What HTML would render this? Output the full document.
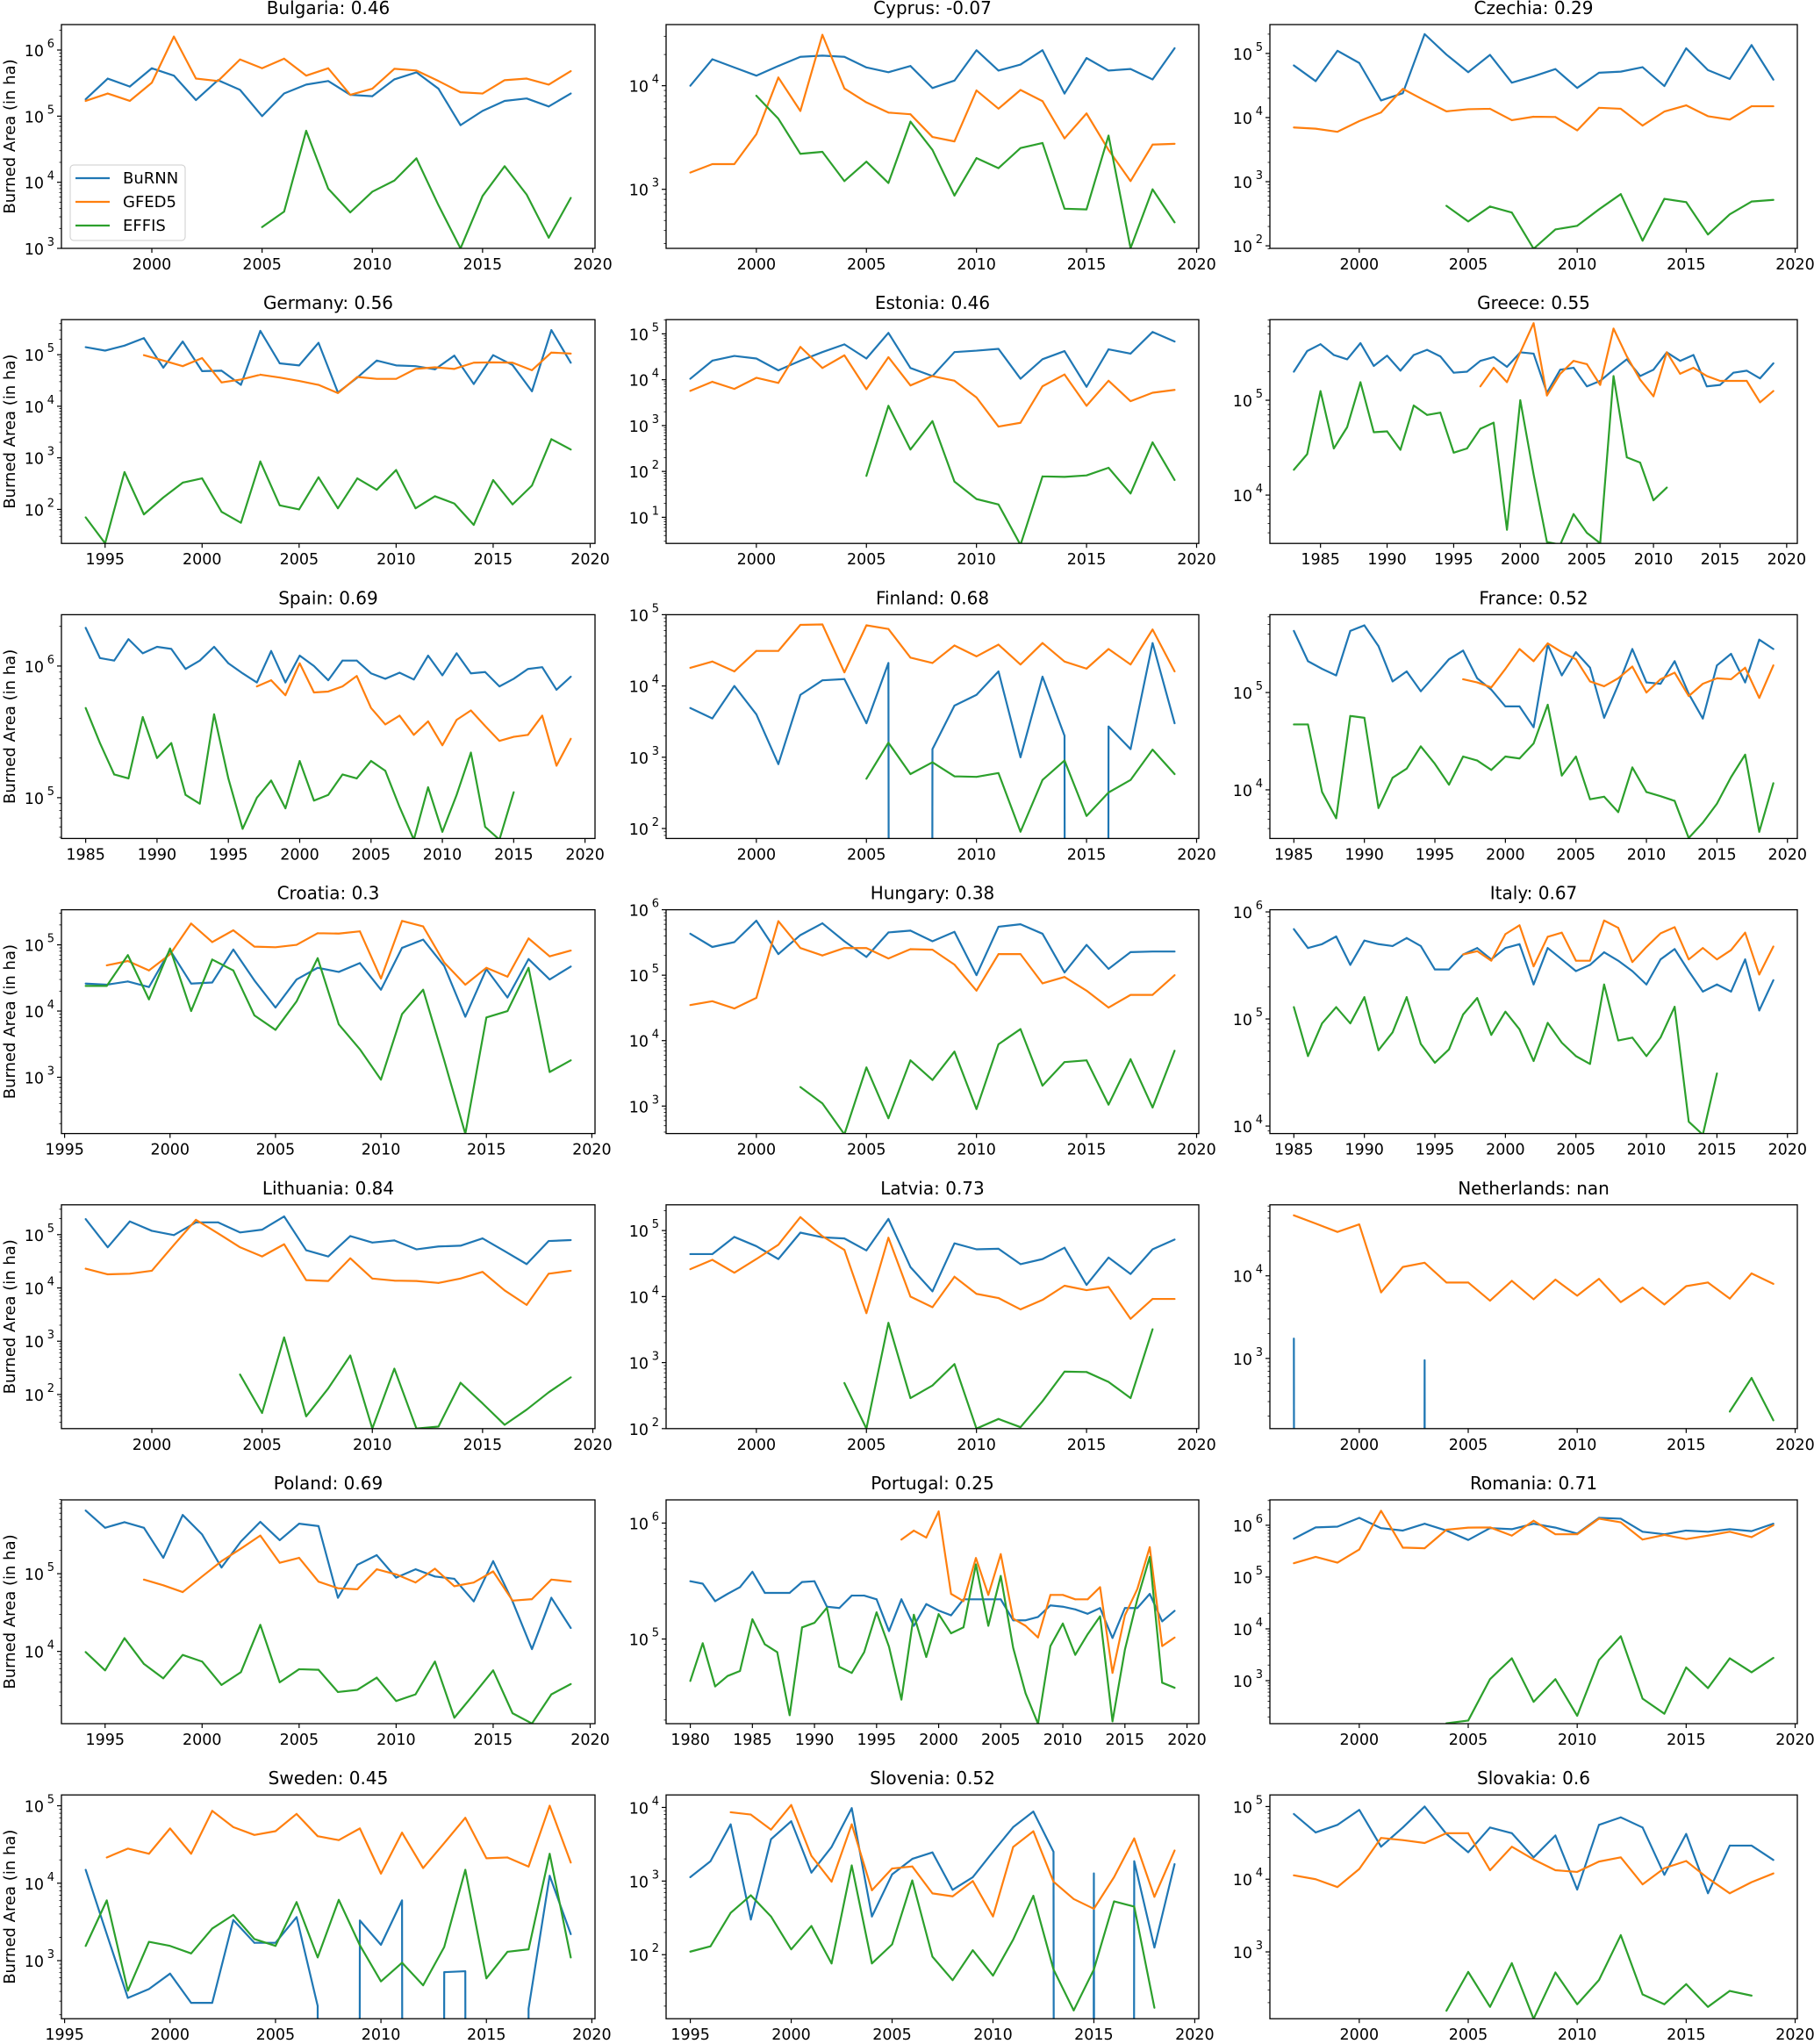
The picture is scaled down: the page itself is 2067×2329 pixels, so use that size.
<!DOCTYPE html>
<html><head><meta charset="utf-8"><title>Burned Area by Country</title>
<style>
html,body{margin:0;padding:0;background:#fff;width:2067px;height:2329px;overflow:hidden;}
svg{display:block;overflow:hidden;font-family:"DejaVu Sans","Liberation Sans",sans-serif;}
</style></head>
<body>
<svg id="fig" xmlns="http://www.w3.org/2000/svg" width="2067" height="2329" viewBox="0 0 2067 2329"></svg>
<script>
const countries = ["Bulgaria","Cyprus","Czechia","Germany","Estonia","Greece","Spain","Finland","France","Croatia","Hungary","Italy","Lithuania","Latvia","Netherlands","Poland","Portugal","Romania","Sweden","Slovenia","Slovakia"];
const scores = ["0.46","-0.07","0.29","0.56","0.46","0.55","0.69","0.68","0.52","0.3","0.38","0.67","0.84","0.73","nan","0.69","0.25","0.71","0.45","0.52","0.6"];
const burnnStart = [1997,1997,1997,1994,1997,1983,1985,1997,1985,1996,1997,1985,1997,1997,1997,1994,1980,1997,1996,1995,1997];
const gfedStart  = [1997,1997,1997,1997,1997,1997,1997,1997,1997,1997,1997,1997,1997,1997,1997,1997,1997,1997,1997,1997,1997];
const effisStart = [2005,2000,2004,1994,2005,1983,1985,2005,1985,1996,2002,1985,2004,2004,2017,1994,1980,2004,1996,1995,2004];
const yLimLo = [3.0,2.43,1.96,1.34,0.43,3.49,4.69,1.86,3.50,2.15,2.58,3.93,1.36,2.0,2.15,3.07,4.27,2.17,2.25,1.13,2.08];
const yLimHi = [6.385,4.59,5.45,5.68,5.31,5.85,6.39,5.0,5.80,5.53,6.0,6.02,5.56,5.39,4.86,5.95,6.2,6.49,5.14,4.17,5.16];

const burnn = [
 [1.8e5,3.7e5,2.8e5,5.3e5,4.1e5,1.75e5,3.5e5,2.5e5,1.0e5,2.2e5,3.0e5,3.4e5,2.1e5,2.0e5,3.6e5,4.6e5,2.6e5,7.3e4,1.2e5,1.7e5,1.85e5,1.4e5,2.2e5],
 [1.0e4,1.8e4,1.5e4,1.25e4,1.55e4,1.9e4,1.95e4,1.9e4,1.5e4,1.35e4,1.55e4,9.5e3,1.12e4,2.2e4,1.4e4,1.6e4,2.2e4,8.4e3,1.85e4,1.4e4,1.45e4,1.15e4,2.3e4],
 [6.5e4,3.7e4,1.1e5,7.1e4,1.85e4,2.4e4,2.0e5,9.6e4,5.1e4,9.5e4,3.5e4,4.4e4,5.7e4,2.9e4,5.0e4,5.2e4,6.1e4,3.1e4,1.2e5,5.5e4,4.0e4,1.35e5,3.9e4],
 [1.4e5,1.2e5,1.5e5,2.1e5,5.6e4,1.8e5,4.8e4,4.9e4,2.6e4,2.9e5,6.8e4,6.2e4,1.7e5,1.85e4,3.6e4,7.7e4,6.2e4,6.0e4,5.2e4,9.6e4,2.7e4,9.8e4,6.3e4,1.95e4,3.0e5,7.0e4],
 [1.05e4,2.6e4,3.3e4,2.9e4,1.6e4,2.6e4,4.0e4,5.9e4,2.9e4,1.05e5,1.8e4,1.2e4,4.0e4,4.3e4,4.7e4,1.05e4,2.8e4,4.2e4,7.0e3,4.6e4,3.7e4,1.1e5,6.8e4],
 [2.0e5,3.3e5,3.9e5,3.0e5,2.7e5,4.0e5,2.3e5,2.95e5,2.05e5,3.0e5,3.4e5,2.9e5,1.95e5,2.0e5,2.6e5,2.85e5,2.25e5,3.2e5,3.1e5,1.2e5,2.1e5,2.2e5,1.4e5,1.6e5,2.1e5,2.7e5,1.8e5,2.1e5,3.2e5,2.6e5,3.0e5,1.4e5,1.45e5,1.95e5,2.05e5,1.7e5,2.45e5],
 [1.95e6,1.15e6,1.1e6,1.6e6,1.25e6,1.4e6,1.35e6,9.5e5,1.1e6,1.4e6,1.05e6,8.8e5,7.5e5,1.3e6,7.5e5,1.2e6,1.0e6,7.8e5,1.1e6,1.1e6,8.8e5,8.0e5,8.9e5,7.9e5,1.2e6,8.5e5,1.25e6,8.8e5,9.0e5,7.0e5,8.0e5,9.5e5,9.8e5,6.6e5,8.3e5],
 [4.9e3,3.5e3,1.0e4,4.0e3,800,7.5e3,1.2e4,1.25e4,3.0e3,2.1e4,0,1.3e3,5.3e3,7.5e3,1.6e4,1.0e3,1.35e4,2.0e3,0,2.7e3,1.3e3,4.0e4,3.0e3],
 [4.3e5,2.1e5,1.75e5,1.5e5,4.3e5,4.9e5,3.0e5,1.3e5,1.65e5,1.03e5,1.5e5,2.2e5,2.7e5,1.4e5,1.07e5,7.2e4,7.2e4,4.4e4,3.1e5,1.5e5,2.6e5,1.8e5,5.5e4,1.2e5,2.8e5,1.27e5,1.23e5,2.1e5,9.7e4,5.4e4,1.9e5,2.5e5,1.27e5,3.5e5,2.8e5],
 [2.6e4,2.5e4,2.8e4,2.3e4,8.3e4,2.6e4,2.7e4,8.5e4,2.9e4,1.13e4,3.0e4,4.5e4,3.9e4,5.3e4,2.1e4,9.0e4,1.2e5,4.8e4,8.2e3,4.3e4,1.6e4,6.1e4,3.0e4,4.7e4],
 [4.3e5,2.7e5,3.2e5,6.8e5,2.1e5,4.1e5,6.2e5,3.3e5,1.9e5,4.5e5,4.8e5,3.3e5,4.6e5,1.0e5,5.5e5,6.0e5,4.3e5,1.1e5,2.9e5,1.25e5,2.25e5,2.3e5,2.3e5],
 [6.9e5,4.6e5,5.0e5,5.9e5,3.2e5,5.4e5,5.0e5,4.8e5,5.7e5,4.8e5,2.9e5,2.9e5,4.0e5,4.6e5,3.6e5,4.6e5,5.0e5,2.1e5,4.6e5,3.6e5,2.8e5,3.2e5,4.2e5,3.5e5,2.8e5,2.1e5,3.6e5,4.5e5,2.8e5,1.8e5,2.1e5,1.8e5,3.6e5,1.2e5,2.3e5],
 [1.96e5,5.8e4,1.77e5,1.18e5,9.8e4,1.7e5,1.7e5,1.1e5,1.24e5,2.2e5,5.1e4,3.9e4,9.4e4,7.1e4,7.8e4,5.3e4,6.0e4,6.2e4,8.5e4,4.9e4,2.8e4,7.6e4,7.9e4],
 [4.4e4,4.4e4,8.0e4,5.8e4,3.7e4,9.3e4,7.9e4,7.6e4,5.0e4,1.5e5,2.8e4,1.2e4,6.4e4,5.2e4,5.3e4,3.1e4,3.7e4,5.5e4,1.5e4,3.9e4,2.2e4,5.2e4,7.3e4],
 [1.74e3,0,0,0,0,0,950,0,0,0,0,0,0,0,0,0,0,0,0,0,0,0,0],
 [6.5e5,3.9e5,4.6e5,3.9e5,1.6e5,5.7e5,3.2e5,1.2e5,2.6e5,4.65e5,2.7e5,4.4e5,4.1e5,4.9e4,1.3e5,1.73e5,8.9e4,1.14e5,9.2e4,8.6e4,4.4e4,1.45e5,4.4e4,1.07e4,4.9e4,2.0e4],
 [3.15e5,3.0e5,2.12e5,2.45e5,2.8e5,3.8e5,2.5e5,2.5e5,2.5e5,3.1e5,3.15e5,1.9e5,1.85e5,2.37e5,2.37e5,2.2e5,1.17e5,2.2e5,1.3e5,2.0e5,1.76e5,1.6e5,2.2e5,2.2e5,2.2e5,2.2e5,1.45e5,1.45e5,1.55e5,1.95e5,1.9e5,1.8e5,1.65e5,1.85e5,1.02e5,1.85e5,1.85e5,2.45e5,1.42e5,1.75e5],
 [5.5e5,9.1e5,9.4e5,1.39e6,8.8e5,7.9e5,1.07e6,7.9e5,5.2e5,8.8e5,8.4e5,1.07e6,9.0e5,6.9e5,1.39e6,1.34e6,7.5e5,6.7e5,7.9e5,7.5e5,8.4e5,7.7e5,1.07e6],
 [1.49e4,2.2e3,3.3e2,4.3e2,6.8e2,2.85e2,2.85e2,3.35e3,1.7e3,1.7e3,3.65e3,2.6e2,0,3.3e3,1.6e3,6.0e3,0,7.1e2,7.3e2,0,0,2.4e2,1.25e4,2.2e3],
 [1.13e3,1.86e3,5.9e3,3.0e2,3.7e3,6.5e3,1.3e3,2.9e3,9.8e3,3.3e2,1.23e3,2.0e3,2.45e3,7.6e2,1.13e3,2.5e3,5.4e3,8.8e3,2.5e3,0,1.27e3,0,1.86e3,1.25e2,1.7e3],
 [7.9e4,4.4e4,5.6e4,9.0e4,2.8e4,5.15e4,1.0e5,4.2e4,2.35e4,5.15e4,4.3e4,2.0e4,4.0e4,7.2e3,5.6e4,7.1e4,5.15e4,1.15e4,4.2e4,6.4e3,2.9e4,2.9e4,1.84e4]
];
const gfed = [
 [1.7e5,2.2e5,1.7e5,3.2e5,1.6e6,3.7e5,3.4e5,7.2e5,5.3e5,7.4e5,4.1e5,5.3e5,2.1e5,2.6e5,5.2e5,4.9e5,3.4e5,2.3e5,2.2e5,3.5e5,3.7e5,3.0e5,4.8e5],
 [1.45e3,1.75e3,1.75e3,3.4e3,1.2e4,5.7e3,3.1e4,9.4e3,6.9e3,5.5e3,5.3e3,3.2e3,2.9e3,9.0e3,6.0e3,9.1e3,7.1e3,3.1e3,5.4e3,2.4e3,1.2e3,2.7e3,2.75e3],
 [7.0e3,6.7e3,6.0e3,8.8e3,1.2e4,2.8e4,1.85e4,1.25e4,1.35e4,1.37e4,9.1e3,1.03e4,1.02e4,6.3e3,1.42e4,1.37e4,7.5e3,1.24e4,1.55e4,1.05e4,9.3e3,1.5e4,1.5e4],
 [9.8e4,7.7e4,6.0e4,8.6e4,2.9e4,3.3e4,4.1e4,3.6e4,3.1e4,2.6e4,1.8e4,3.7e4,3.4e4,3.4e4,5.3e4,5.7e4,5.3e4,7.0e4,7.1e4,7.0e4,5.0e4,1.1e5,1.05e5],
 [5.7e3,9.0e3,6.3e3,1.1e4,8.5e3,5.2e4,1.8e4,3.4e4,6.2e3,3.1e4,7.5e3,1.2e4,9.5e3,4.1e3,950,1.15e3,7.2e3,1.3e4,2.7e3,9.5e3,3.4e3,5.2e3,6.0e3],
 [1.4e5,2.2e5,1.55e5,3.2e5,6.5e5,1.12e5,1.9e5,2.6e5,2.4e5,1.45e5,5.7e5,2.9e5,1.65e5,1.1e5,3.2e5,1.9e5,2.2e5,1.8e5,1.6e5,1.6e5,1.6e5,9.5e4,1.25e5],
 [7.0e5,7.8e5,6.0e5,1.05e6,6.3e5,6.4e5,7.0e5,8.4e5,4.8e5,3.6e5,4.2e5,3.0e5,3.8e5,2.5e5,3.9e5,4.6e5,3.5e5,2.7e5,2.9e5,3.0e5,4.2e5,1.75e5,2.8e5],
 [1.8e4,2.2e4,1.6e4,3.1e4,3.1e4,7.2e4,7.3e4,1.55e4,7.1e4,6.3e4,2.5e4,2.1e4,3.7e4,2.6e4,3.8e4,2.0e4,4.0e4,2.2e4,1.75e4,3.3e4,2.0e4,6.2e4,1.6e4],
 [1.37e5,1.27e5,1.13e5,1.75e5,2.8e5,2.1e5,3.2e5,2.6e5,2.2e5,1.3e5,1.16e5,1.4e5,1.85e5,1.0e5,1.37e5,1.6e5,9.2e4,1.23e5,1.4e5,1.37e5,1.8e5,8.8e4,1.9e5],
 [4.9e4,5.7e4,4.1e4,7.2e4,2.1e5,1.1e5,1.66e5,9.4e4,9.2e4,1.0e5,1.5e5,1.48e5,1.6e5,3.1e4,2.3e5,1.9e5,5.4e4,2.5e4,4.5e4,3.3e4,1.25e5,6.7e4,8.2e4],
 [3.5e4,4.0e4,3.1e4,4.5e4,6.7e5,2.6e5,2.0e5,2.6e5,2.6e5,1.8e5,2.5e5,2.45e5,1.45e5,5.8e4,2.1e5,2.1e5,7.5e4,9.4e4,5.8e4,3.2e4,5.0e4,5.0e4,1.0e5],
 [4.0e5,4.3e5,3.5e5,6.2e5,7.5e5,3.1e5,5.85e5,6.4e5,3.5e5,3.5e5,8.3e5,7.1e5,3.4e5,4.7e5,6.3e5,7.2e5,3.6e5,4.6e5,3.6e5,4.4e5,6.4e5,2.6e5,4.75e5],
 [2.3e4,1.8e4,1.85e4,2.1e4,6.4e4,1.9e5,1.06e5,5.8e4,3.9e4,6.6e4,1.4e4,1.35e4,3.6e4,1.5e4,1.37e4,1.35e4,1.24e4,1.5e4,2.0e4,9.0e3,4.8e3,1.85e4,2.1e4],
 [2.6e4,3.6e4,2.3e4,3.7e4,6.1e4,1.6e5,8.2e4,5.1e4,5.6e3,7.8e4,1.0e4,6.9e3,2.0e4,1.1e4,9.5e3,6.4e3,8.9e3,1.46e4,1.25e4,1.4e4,4.6e3,9.2e3,9.2e3],
 [5.4e4,4.3e4,3.4e4,4.2e4,6.3e3,1.28e4,1.44e4,8.3e3,8.3e3,5.0e3,8.7e3,5.2e3,9.0e3,5.75e3,9.2e3,4.8e3,7.2e3,4.5e3,7.5e3,8.3e3,5.3e3,1.07e4,8.0e3],
 [8.4e4,7.1e4,5.8e4,9.2e4,1.45e5,2.1e5,3.1e5,1.38e5,1.6e5,7.9e4,6.5e4,6.3e4,1.14e5,9.8e4,7.7e4,1.16e5,6.9e4,7.7e4,1.07e5,4.5e4,4.7e4,8.4e4,7.9e4],
 [7.2e5,8.6e5,7.5e5,1.26e6,2.45e5,2.12e5,5.0e5,2.4e5,5.4e5,1.5e5,1.3e5,1.03e5,2.4e5,2.4e5,2.2e5,2.2e5,2.8e5,5.1e4,1.6e5,2.7e5,6.2e5,8.7e4,1.03e5],
 [1.85e5,2.45e5,1.9e5,3.4e5,1.9e6,3.7e5,3.6e5,8.2e5,9.0e5,9.1e5,6.3e5,1.22e6,6.7e5,6.7e5,1.34e6,1.14e6,5.3e5,6.5e5,5.4e5,6.3e5,7.5e5,5.9e5,1.0e6],
 [2.15e4,2.8e4,2.4e4,5.1e4,2.4e4,8.6e4,5.3e4,4.2e4,4.7e4,7.85e4,4.05e4,3.6e4,5.1e4,1.33e4,4.5e4,1.57e4,3.3e4,7.0e4,2.1e4,2.15e4,1.64e4,1.0e5,1.85e4],
 [8.6e3,8.0e3,5.0e3,1.08e4,2.2e3,9.8e2,5.9e3,7.5e2,1.48e3,1.58e3,6.8e2,6.2e2,1.0e3,3.3e2,2.9e3,4.75e3,9.8e2,5.7e2,4.2e2,1.13e3,3.8e3,6.1e2,2.6e3],
 [1.13e4,1.0e4,7.8e3,1.38e4,3.7e4,3.45e4,3.15e4,4.3e4,4.3e4,1.33e4,2.8e4,1.87e4,1.33e4,1.26e4,1.75e4,2.0e4,8.5e3,1.42e4,1.78e4,1.03e4,6.4e3,9.1e3,1.2e4]
];
const effis = [
 [2.1e3,3.6e3,6.0e4,8.0e3,3.5e3,7.2e3,1.06e4,2.3e4,4.5e3,1.0e3,6.2e3,1.75e4,6.5e3,1.45e3,5.8e3],
 [8.0e3,4.8e3,2.2e3,2.3e3,1.2e3,1.85e3,1.15e3,4.5e3,2.4e3,870,2.0e3,1.6e3,2.5e3,2.8e3,650,640,3.3e3,270,1.0e3,480],
 [420,240,410,330,90,180,205,370,640,120,540,480,150,310,490,520],
 [70,22,530,80,170,330,400,90,55,850,120,100,420,105,400,240,580,105,180,130,50,370,125,290,2300,1450],
 [80,2700,300,1250,60,25,19,2.5,78,76,82,120,33,430,65],
 [1.85e4,2.7e4,1.25e5,3.1e4,5.2e4,1.55e5,4.6e4,4.7e4,3.0e4,8.8e4,7.0e4,7.4e4,2.8e4,3.1e4,5.0e4,5.8e4,4.3e3,1.0e5,1.65e4,3.2e3,3.0e3,6.3e3,4.0e3,3.1e3,1.8e5,2.5e4,2.2e4,8.8e3,1.2e4],
 [4.8e5,2.6e5,1.5e5,1.4e5,4.1e5,2.0e5,2.6e5,1.05e5,9.0e4,4.3e5,1.4e5,5.8e4,1.0e5,1.35e5,8.3e4,1.9e5,9.5e4,1.05e5,1.5e5,1.4e5,1.9e5,1.6e5,8.5e4,4.8e4,1.2e5,5.5e4,1.05e5,2.2e5,6.0e4,4.8e4,1.1e5],
 [500,1600,580,850,540,530,600,90,480,900,150,320,480,1280,580],
 [4.7e4,4.7e4,9.5e3,5.1e3,5.75e4,5.5e4,6.5e3,1.33e4,1.65e4,2.8e4,1.85e4,1.13e4,2.2e4,2.0e4,1.6e4,2.2e4,2.1e4,3.0e4,7.5e4,1.4e4,2.2e4,8.0e3,8.5e3,5.9e3,1.7e4,9.5e3,8.6e3,7.7e3,3.2e3,4.6e3,7.2e3,1.35e4,2.3e4,3.7e3,1.17e4],
 [2.4e4,2.4e4,7.0e4,1.5e4,8.8e4,1.0e4,6.0e4,4.1e4,8.6e3,5.2e3,1.4e4,6.3e4,6.3e3,2.65e3,9.2e2,9.0e3,2.1e4,1.8e3,1.4e2,8.0e3,1.0e4,4.5e4,1.2e3,1.8e3],
 [1.95e3,1.1e3,3.7e2,3.9e3,6.5e2,5.0e3,2.5e3,6.8e3,9.0e2,8.8e3,1.5e4,2.05e3,4.7e3,5.0e3,1.05e3,5.2e3,9.5e2,7.0e3],
 [1.29e5,4.5e4,9.1e4,1.29e5,9.1e4,1.6e5,5.1e4,7.5e4,1.6e5,5.85e4,3.9e4,5.2e4,1.1e5,1.57e5,7.1e4,1.17e5,8.0e4,4.05e4,9.2e4,6.0e4,4.5e4,3.8e4,2.1e5,6.3e4,6.7e4,4.5e4,6.7e4,1.3e5,1.1e4,8.3e3,3.1e4],
 [2.37e2,45,1.18e3,39,1.3e2,5.4e2,23,3.05e2,23,25,1.66e2,68,27,52,1.1e2,2.1e2],
 [4.9e2,1.0e2,4.0e3,2.9e2,4.5e2,9.5e2,1.0e2,1.4e2,1.05e2,2.6e2,7.3e2,7.2e2,5.1e2,2.9e2,3.2e3],
 [2.27e2,5.8e2,1.78e2],
 [9.8e3,5.7e3,1.48e4,6.9e3,4.5e3,9.0e3,7.4e3,3.7e3,5.4e3,2.2e4,4.0e3,5.9e3,5.8e3,3.0e3,3.2e3,4.6e3,2.3e3,2.8e3,7.4e3,1.4e3,2.8e3,5.7e3,1.6e3,1.18e3,2.8e3,3.8e3],
 [4.35e4,9.2e4,3.9e4,4.8e4,5.3e4,1.48e5,9.0e4,7.7e4,2.2e4,1.26e5,1.38e5,1.86e5,5.75e4,5.1e4,7.7e4,1.7e5,8.6e4,3.0e4,1.62e5,7.0e4,1.64e5,1.12e5,1.26e5,4.4e5,1.3e5,3.5e5,8.4e4,3.4e4,1.86e4,8.7e4,1.36e5,7.3e4,1.1e5,1.57e5,1.95e4,8.1e4,2.2e5,5.1e5,4.2e4,3.8e4],
 [1.5e2,1.7e2,1.07e3,2.7e3,3.9e2,1.07e3,2.1e2,2.5e3,7.2e3,4.5e2,2.3e2,1.8e3,7.2e2,2.7e3,1.45e3,2.75e3],
 [1.55e3,6.0e3,4.1e2,1.75e3,1.55e3,1.24e3,2.6e3,3.9e3,1.9e3,1.55e3,5.7e3,1.1e3,6.1e3,1.58e3,5.4e2,9.4e2,4.8e2,1.5e3,1.49e4,5.9e2,1.3e3,1.4e3,2.4e4,1.1e3],
 [1.1e2,1.3e2,3.7e2,6.4e2,3.3e2,1.18e2,2.45e2,76,1.63e3,76,1.38e2,1.02e3,94,45,1.15e2,52,1.6e2,6.3e2,63,17.5,63,5.3e2,4.5e2,19],
 [1.55e2,5.3e2,1.75e2,7.0e2,1.2e2,5.2e2,1.9e2,4.1e2,1.7e3,2.6e2,1.9e2,3.6e2,1.75e2,2.9e2,2.5e2]
];
const seriesNames = ["BuRNN","GFED5","EFFIS"];
const seriesColors = ["#1f77b4","#ff7f0e","#2ca02c"];

const NS = "http://www.w3.org/2000/svg";
const svg = document.getElementById("fig");
const colL = [70, 759, 1447], colR = [678, 1366, 2048];
const top0 = 28, rowStep = 336.2, ph = 255;
function mk(tag, attrs, parent) {
  const e = document.createElementNS(NS, tag);
  for (const k in attrs) e.setAttribute(k, attrs[k]);
  (parent || svg).appendChild(e);
  return e;
}
const defs = mk("defs", {});

countries.forEach((name, i) => {
  const r = Math.floor(i / 3), c = i % 3;
  const L = colL[c], R = colR[c], T = top0 + rowStep * r, B = T + ph;
  const starts = [burnnStart[i], gfedStart[i], effisStart[i]];
  const arrs = [burnn[i], gfed[i], effis[i]];
  let y0 = Infinity, y1 = -Infinity;
  arrs.forEach((a, s) => { y0 = Math.min(y0, starts[s]); y1 = Math.max(y1, starts[s] + a.length - 1); });
  const xr = y1 - y0, xmin = y0 - 0.05 * xr, xmax = y1 + 0.05 * xr;
  const xs = yr => L + (yr - xmin) / (xmax - xmin) * (R - L);
  const lo = yLimLo[i], hi = yLimHi[i];
  const FAR = B + 20000;
  const ys = v => v <= 0 ? FAR : B - (Math.log10(v) - lo) / (hi - lo) * (B - T);

  const g = mk("g", {});
  
  

  const cp = mk("clipPath", { id: "cp" + i }, defs);
  mk("rect", { x: L, y: T, width: R - L, height: B - T }, cp);

  const title = mk("text", { x: (L + R) / 2, y: T - 12, "text-anchor": "middle", "font-size": 20, fill: "#000" }, g);
  title.textContent = name + ": " + scores[i];
  
  

  const xt = mk("g", {}, g);
  
  
  for (let yr = Math.ceil(xmin / 5) * 5; yr <= xmax; yr += 5) {
    const x = xs(yr);
    mk("line", { x1: x, y1: B, x2: x, y2: B + 5, stroke: "#000", "stroke-width": 1.2 }, xt);
    const t = mk("text", { x: x, y: B + 24, "text-anchor": "middle", "font-size": 17.5, fill: "#000" }, xt);
    t.textContent = yr;
  }
  const yt = mk("g", {}, g);
  
  
  for (let d = Math.floor(lo) - 1; d <= Math.ceil(hi); d++) {
    for (let k = 1; k <= 9; k++) {
      const lv = d + Math.log10(k);
      if (lv < lo - 0.01 || lv > hi + 0.01) continue;
      const y = B - (lv - lo) / (hi - lo) * (B - T);
      if (k === 1) {
        mk("line", { x1: L - 5, y1: y, x2: L, y2: y, stroke: "#000", "stroke-width": 1.2 }, yt);
        const t = mk("text", { x: L - 20, y: y + 7, "text-anchor": "end", "font-size": 17.5, fill: "#000" }, yt);
        t.textContent = "10";
        const sup = mk("text", { x: L - 8, y: y - 3, "text-anchor": "end", "font-size": 13, fill: "#000" }, yt);
        sup.textContent = String(d);
      } else {
        mk("line", { x1: L - 2.5, y1: y, x2: L, y2: y, stroke: "#000", "stroke-width": 0.8 }, yt);
      }
    }
  }
  const CUT = B + 3;
  arrs.forEach((a, s) => {
    let d = "";
    for (let j = 0; j + 1 < a.length; j++) {
      const v1 = a[j], v2 = a[j + 1];
      if (v1 === null || v2 === null || v1 === undefined || v2 === undefined) continue;
      if (v1 <= 0 && v2 <= 0) continue;
      let xa = xs(starts[s] + j), ya = ys(v1), xb = xs(starts[s] + j + 1), yb = ys(v2);
      if (v1 <= 0) { const t = (CUT - yb) / (ya - yb); xa = xb + t * (xa - xb); ya = CUT; }
      if (v2 <= 0) { const t = (CUT - ya) / (yb - ya); xb = xa + t * (xb - xa); yb = CUT; }
      d += "M" + xa.toFixed(2) + " " + ya.toFixed(2) + " L" + xb.toFixed(2) + " " + yb.toFixed(2) + " ";
    }
    const p = mk("path", { d: d, fill: "none", stroke: seriesColors[s], "stroke-width": 2.2, "stroke-linecap": "round", "stroke-linejoin": "round", "clip-path": "url(#cp" + i + ")" }, g);
    
    
  });
  const frame = mk("rect", { x: L, y: T, width: R - L, height: B - T, fill: "none", stroke: "#000", "stroke-width": 1.3 }, g);
  
  

  if (c === 0) {
    const yl = mk("text", { x: 0, y: 0, transform: "translate(17," + ((T + B) / 2) + ") rotate(-90)", "text-anchor": "middle", "font-size": 18, fill: "#000" }, g);
    yl.textContent = "Burned Area (in ha)";
    
    
  }
  if (i === 0) {
    const lg = mk("g", {}, g);
    
    
    mk("rect", { x: 80, y: 188, width: 131, height: 86, rx: 4, fill: "#fff", "fill-opacity": 0.8, stroke: "#ccc", "stroke-width": 1 }, lg);
    seriesNames.forEach((sn, s) => {
      const yy = 203 + s * 27;
      const en = mk("g", {}, lg);
      
      
      mk("line", { x1: 86, y1: yy, x2: 125, y2: yy, stroke: seriesColors[s], "stroke-width": 2.2 }, en);
      const t = mk("text", { x: 140, y: yy + 6, "font-size": 18, fill: "#000" }, en);
      t.textContent = sn;
    });
  }
});
</script>
</body></html>
